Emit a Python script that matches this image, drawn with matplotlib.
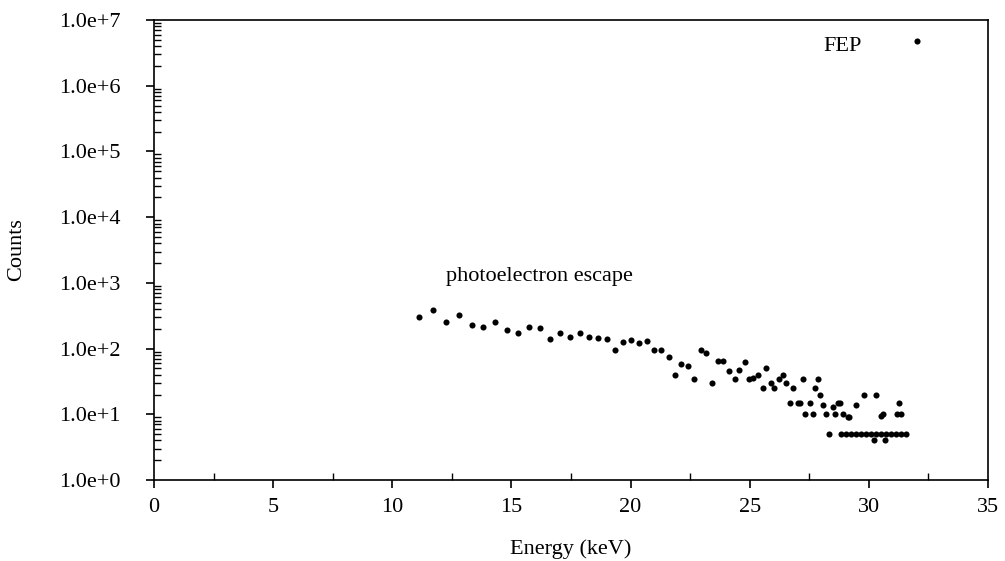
import math
import matplotlib
matplotlib.use("Agg")
import matplotlib.pyplot as plt
from matplotlib.ticker import FixedLocator, LogLocator, FuncFormatter

plt.rcParams['font.family'] = ['Liberation Serif', 'DejaVu Serif']

# escape-peak region
energy = [11.13, 11.69, 12.27, 12.80, 13.33, 13.82, 14.33, 14.82, 15.27, 15.76,
          16.19, 16.64, 17.06, 17.48, 17.86, 18.24, 18.62, 19.00, 19.34, 19.68,
          20.02, 20.35, 20.68, 20.98, 21.27, 21.60, 21.88, 22.14, 22.41, 22.68,
          22.94, 23.17, 23.44, 23.68, 23.90, 24.13, 24.38, 24.55, 24.79, 24.98,
          25.16, 25.33, 25.54, 25.68, 25.89, 26.03, 26.24, 26.38, 26.52, 26.69,
          26.83, 27.01, 27.12, 27.24, 27.33, 27.52, 27.64, 27.74, 27.86, 27.96,
          28.09, 28.20, 28.34, 28.49, 28.60, 28.70, 28.79, 28.91, 29.12, 29.18,
          29.47, 29.80, 30.32, 30.53, 30.59, 31.20, 31.26, 31.36]
counts = [300, 380, 250, 325, 230, 215, 255, 195, 175, 215,
          205, 140, 175, 150, 170, 150, 145, 140, 95, 125,
          135, 120, 130, 95, 95, 75, 40, 58, 55, 35,
          95, 85, 30, 65, 65, 45, 35, 48, 62, 35,
          36, 40, 25, 50, 30, 25, 35, 40, 30, 15,
          25, 15, 15, 35, 10, 15, 10, 25, 35, 20,
          14, 10, 5, 13, 10, 15, 15, 10, 9, 9,
          14, 20, 20, 9.5, 10, 10, 15, 10]

# single-count floor
floor_energy = [28.84, 29.05, 29.26, 29.47, 29.68, 29.89, 30.10, 30.31,
                30.52, 30.73, 30.94, 31.15, 31.36, 31.57, 30.24, 30.66]
floor_counts = [5, 5, 5, 5, 5, 5, 5, 5, 5, 5, 5, 5, 5, 5, 4, 4]

# full energy peak
fep_energy = [32.03]
fep_counts = [4.8e6]

fig = plt.figure(figsize=(10.05, 5.61), dpi=100)
ax = fig.add_axes([0.1532, 0.1444, 0.8298, 0.8199])

ax.plot(energy, counts, 'o', color='black', ms=4.4, mew=0)
ax.plot(floor_energy, floor_counts, 'o', color='black', ms=4.4, mew=0)
ax.plot(fep_energy, fep_counts, 'o', color='black', ms=4.4, mew=0)

ax.set_yscale('log')
ax.set_xlim(0, 35)
ax.set_ylim(1, 1e7)

ax.xaxis.set_major_locator(FixedLocator(range(0, 36, 5)))
ax.xaxis.set_minor_locator(FixedLocator([2.5 + 5 * i for i in range(7)]))
ax.yaxis.set_major_locator(FixedLocator([10.0 ** k for k in range(8)]))
ax.yaxis.set_minor_locator(LogLocator(base=10, subs=range(2, 10), numticks=20))
ax.yaxis.set_major_formatter(FuncFormatter(lambda v, p: "1.0e+%d" % round(math.log10(v))))

ax.tick_params(which='major', direction='out', length=6, width=1.2, labelsize=16, top=False, right=False)
ax.tick_params(which='minor', direction='in', length=5, width=1.0, top=False, right=False)
ax.tick_params(axis='x', which='major', pad=7)
ax.tick_params(axis='y', which='major', pad=18)
for s in ax.spines.values():
    s.set_linewidth(1.2)

ax.set_xlabel("Energy (keV)", fontsize=16, labelpad=16)
ax.set_ylabel("Counts", fontsize=16, labelpad=24)

ax.text(12.27, 1230, "photoelectron escape", fontsize=16, va='center', ha='left')
ax.text(28.08, 3.9e6, "FEP", fontsize=16, va='center', ha='left')

fig.savefig("out.png", dpi=100)
